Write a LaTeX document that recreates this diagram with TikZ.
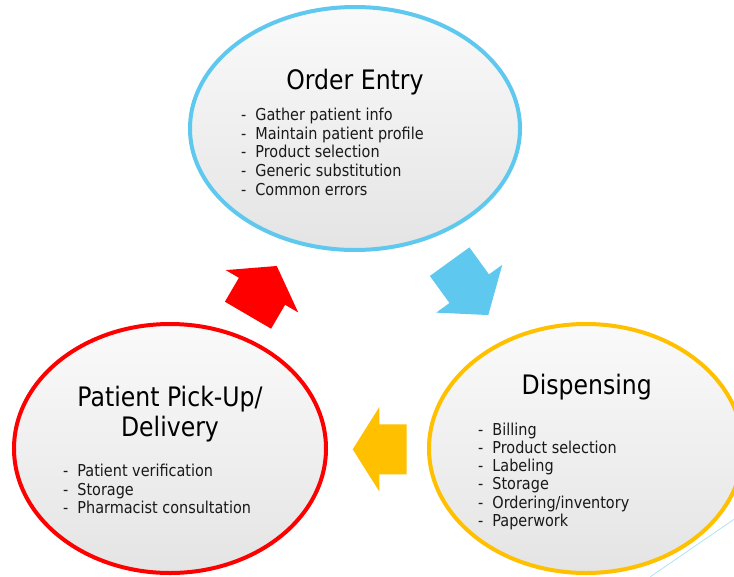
\documentclass[tikz,border=0pt]{standalone}
\usepackage{fontspec}
\setmainfont{DejaVu Sans}[FakeStretch=0.88]
\usetikzlibrary{shapes.geometric}
\definecolor{oeblue}{HTML}{5FC8EE}
\definecolor{dpgold}{HTML}{FFC000}
\definecolor{pured}{HTML}{FF0000}
\definecolor{thinblue}{HTML}{B4E2F4}
\definecolor{fillTop}{HTML}{FAFAFA}
\definecolor{fillBot}{HTML}{E4E4E4}
\tikzset{
  stage/.style={ellipse, draw, line width=4pt, inner sep=0pt, top color=fillTop, bottom color=fillBot},
  titletext/.style={anchor=base, inner sep=0pt, font=\fontsize{26.8}{30}\selectfont, text=black},
  itemtext/.style={anchor=base west, inner sep=0pt, font=\fontsize{16.4}{18.4}\selectfont, text=black!90},
  pics/blockarrow/.style n args={4}{code={
    \fill[pic actions] (0,-#1) -- (#3,-#1) -- (#3,-#2) -- (#4,0) -- (#3,#2) -- (#3,#1) -- (0,#1) -- cycle;}}
}
\begin{document}
\begin{tikzpicture}[x=1pt,y=-1pt]
\fill[white] (0,0) rectangle (734,576);
\useasboundingbox (0,0) rectangle (734,576);

% stages
\node[stage, draw=oeblue, minimum width=330pt, minimum height=243pt] (order) at (355,128.5) {};
\node[stage, draw=pured, minimum width=312pt, minimum height=249pt] (pickup) at (170,448.5) {};
\node[stage, draw=dpgold, minimum width=314pt, minimum height=249pt] (dispense) at (586,448.5) {};

% decorative line
\draw[thinblue, line width=0.8pt] (734,519.3) -- (650,577);

% block arrows
\pic[fill=oeblue, rotate=-54.1] (arrowA) at (449.65,261.65) {blockarrow={24.4}{40.8}{33.4}{65.9}};
\pic[fill=dpgold, rotate=180] (arrowB) at (406.7,449.3) {blockarrow={25}{42.2}{27.4}{54}};
\pic[fill=pured, rotate=59.7] (arrowC) at (248,315.2) {blockarrow={26.75}{42}{27.7}{57}};

% Order Entry
\node[titletext] (oetitle) at (355,89) {Order Entry};
\foreach \t [count=\i from 0] in {Gather patient info, Maintain patient profile, Product selection, Generic substitution, Common errors}
  \node[itemtext] (oe\i) at (241,120.7+18.6*\i) {\makebox[14.2pt][l]{-}\t};

% Patient Pick-Up / Delivery
\node[titletext] (pttitleA) at (170,406.7) {Patient Pick-Up/};
\node[titletext] (pttitleB) at (170,436.7) {Delivery};
\foreach \t [count=\i from 0] in {Patient verification, Storage, Pharmacist consultation}
  \node[itemtext] (pt\i) at (63,476.7+18.3*\i) {\makebox[14.2pt][l]{-}\t};

% Dispensing
\node[titletext] (dptitle) at (586.7,394) {Dispensing};
\foreach \t [count=\i from 0] in {Billing, Product selection, Labeling, Storage, Ordering/inventory, Paperwork}
  \node[itemtext] (dp\i) at (478,435+18.3*\i) {\makebox[14.2pt][l]{-}\t};
\end{tikzpicture}
\end{document}
